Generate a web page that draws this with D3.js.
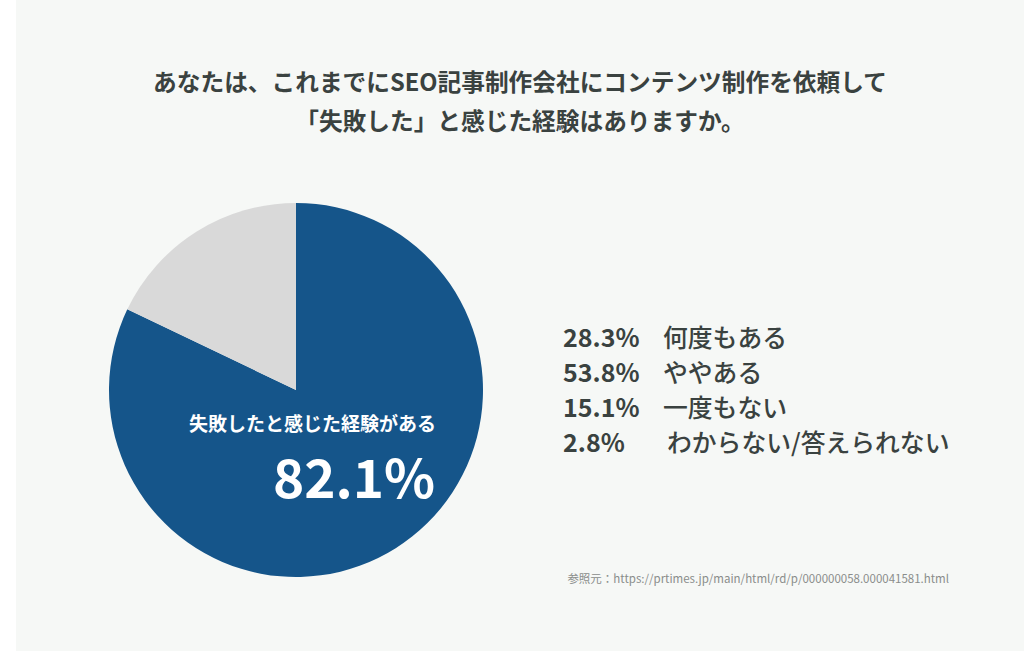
<!DOCTYPE html>
<html><head><meta charset="utf-8">
<script src="https://cdn.jsdelivr.net/npm/d3@7"></script>
<style>
html,body{margin:0;padding:0;background:#fff;}
svg{display:block;}
text{font-family:"Noto Sans CJK JP","Noto Sans",sans-serif;}
</style></head>
<body>
<script>
const titleLines = ["あなたは、これまでにSEO記事制作会社にコンテンツ制作を依頼して", "「失敗した」と感じた経験はありますか。"];
const pieCategories = ["失敗したと感じた経験がある", "その他"];
const pieValues = [82.1, 17.9];
const pieColors = ["#15558a", "#d9d9d9"];
const legendPercents = ["28.3%", "53.8%", "15.1%", "2.8%"];
const legendLabels = ["何度もある", "ややある", "一度もない", "わからない/答えられない"];
const sourceText = "参照元：https://prtimes.jp/main/html/rd/p/000000058.000041581.html";

const W = 1024, H = 651;
const svg = d3.select("body").append("svg").attr("width", W).attr("height", H);
svg.append("rect").attr("x", 16).attr("y", 0).attr("width", W - 16).attr("height", H).attr("fill", "#f6f8f6");

// title
svg.append("g").selectAll("text").data(titleLines).join("text")
  .attr("x", 520).attr("y", (d, i) => 91 + i * 39)
  .attr("text-anchor", "middle").attr("font-size", 23.7).attr("font-weight", 700)
  .attr("fill", "#3a4240").text(d => d);

// pie
const cx = 296, cy = 390, r = 187;
const pie = d3.pie().sort(null).value(d => d)(pieValues);
const arc = d3.arc().innerRadius(0).outerRadius(r);
const g = svg.append("g").attr("transform", `translate(${cx},${cy})`);
g.selectAll("path").data(pie).join("path")
  .attr("d", arc).attr("fill", (d, i) => pieColors[i]);

svg.append("text").attr("x", 436).attr("y", 431).attr("text-anchor", "end")
  .attr("font-size", 19).attr("font-weight", 700).attr("fill", "#fff").text(pieCategories[0]);
svg.append("text").attr("x", 435).attr("y", 498).attr("text-anchor", "end")
  .attr("font-family", "'Noto Sans',sans-serif")
  .attr("font-size", 53).attr("font-weight", 700).attr("fill", "#fff").text(pieValues[0].toFixed(1) + "%");

// legend
const lg = svg.append("g");
lg.selectAll("text.p").data(legendPercents).join("text").attr("class", "p")
  .attr("x", 563).attr("y", (d, i) => 347 + i * 35)
  .attr("font-family", "'Noto Sans',sans-serif")
  .attr("font-size", 25).attr("font-weight", 600).attr("fill", "#3a4240").text(d => d);
lg.selectAll("text.l").data(legendLabels).join("text").attr("class", "l")
  .attr("x", (d, i) => i === 3 ? 667 : 663).attr("y", (d, i) => 347 + i * 35)
  .attr("font-size", 24.8).attr("font-weight", 500).attr("fill", "#3a4240").text(d => d);

// source
svg.append("text").attr("x", 949).attr("y", 583).attr("text-anchor", "end")
  .attr("font-size", 11.5).attr("fill", "#8a8d8b").text(sourceText);
</script>
</body></html>
